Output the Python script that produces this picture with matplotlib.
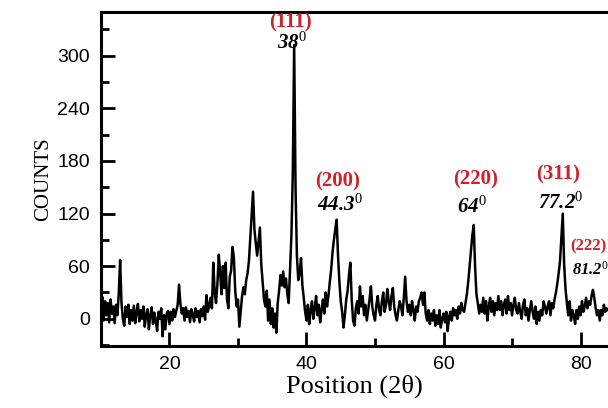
import numpy as np
import matplotlib.pyplot as plt
from matplotlib.ticker import MultipleLocator

plt.rcParams["mathtext.fontset"] = "custom"
plt.rcParams["mathtext.it"] = "Liberation Serif:italic"
plt.rcParams["mathtext.rm"] = "Liberation Serif"

# 2-theta grid (0.2 deg steps) and counts
two_theta = np.round(np.arange(10.0, 84.01, 0.2), 1)
counts = [
    12, 25, -2, 20, 4,      # 10
    18, -4, 22, 6, 14,      # 11
    -5, 16, 4, 28, 67,      # 12
    18, 0, -8, 14, 2,       # 13
    16, -6, 10, -2, 15,     # 14
    -5, 8, 17, -3, 10,      # 15
    0, 14, -9, 5, 11,       # 16
    -12, 4, 13, -6, 7,      # 17
    -2, -14, 8, 0, 12,      # 18
    -20, 4, -12, 6, 9,      # 19
    -6, 8, -2, 11, 2,       # 20
    9, 16, 39, 17, 6,       # 21
    12, -2, 13, 2, 9,       # 22
    -4, 11, 5, -3, 12,      # 23
    2, 9, -4, 11, 3,        # 24
    14, -1, 27, 8, 15,      # 25
    24, 12, 64, 30, 18,     # 26
    40, 73, 52, 28, 60,     # 27
    35, 64, 22, 12, 48,     # 28
    55, 82, 70, 32, 14,     # 29
    22, -9, 8, 26, 36,      # 30
    28, 44, 52, 66, 92,     # 31
    118, 145, 102, 86, 72,  # 32
    88, 104, 62, 42, 22,    # 33
    14, 32, -2, 22, -6,     # 34
    12, -10, 6, -16, 18,    # 35
    32, 50, 38, 54, 36,     # 36
    46, 28, 18, 55, 95,     # 37
    165, 312, 150, 72, 44,  # 38
    52, 69, 38, 24, 8,      # 39
    -2, 16, -6, 10, 20,     # 40
    0, 12, 26, 4, 16,       # 41
    -4, 10, 22, 6, 30,      # 42
    14, 26, 42, 56, 76,     # 43
    90, 102, 113, 72, 42,   # 44
    20, 8, -10, 4, 22,      # 45
    32, 50, 64, 22, -2,     # 46
    -8, 12, 20, 6, 37,      # 47
    14, 26, 4, 16, -2,      # 48
    10, 22, 37, 14, 4,      # 49
    -2, 16, 26, 10, 4,      # 50
    20, 30, 8, 16, 34,      # 51
    20, 10, 26, 35, 14,     # 52
    4, -2, 10, 20, 14,      # 53
    4, 24, 48, 20, 8,       # 54
    16, 4, 20, 10, -2,      # 55
    14, 8, 20, 24, 30,      # 56
    16, 30, 6, -2, 10,      # 57
    -6, 6, -2, 10, -8,      # 58
    4, -6, 10, -10, 0,      # 59
    6, -4, 8, -14, 2,       # 60
    8, -2, 12, 4, 10,       # 61
    0, 14, 6, 18, 10,       # 62
    8, 18, 28, 42, 60,      # 63
    78, 95, 107, 60, 28,    # 64
    18, 6, 16, 8, 24,       # 65
    6, 20, -2, 14, 24,      # 66
    8, 20, 4, 18, 10,       # 67
    26, 10, 20, 4, 16,      # 68
    22, 6, 26, 10, 18,      # 69
    4, 16, 24, 10, 6,       # 70
    18, 8, 0, 16, 22,       # 71
    4, 12, -2, 10, 20,      # 72
    8, 0, 14, -6, 8,        # 73
    -2, 10, 4, 20, 14,      # 74
    6, 14, 20, 4, 18,       # 75
    12, 22, 30, 40, 52,     # 76
    66, 92, 120, 62, 34,    # 77
    18, 4, 20, -2, 10,      # 78
    4, -6, 10, 0, 14,       # 79
    4, 20, 8, 14, 24,       # 80
    12, 20, 16, 26, 33,     # 81
    24, 12, 4, 10, -2,      # 82
    10, 4, 16, 8, 12,       # 83
    10,                     # 84
]

# peak labels: (hkl, angle text, x, y of hkl, x, y of angle)
hkl_labels = ["(111)", "(200)", "(220)", "(311)"]
angle_labels = ["38", "44.3", "64", "77.2"]
hkl_pos = [(37.6, 338), (44.6, 157), (64.6, 159), (76.7, 164)]
angle_pos = [(37.9, 314), (44.9, 130), (64.2, 127), (77.1, 132)]

red = "#d0202a"
serif = ["Liberation Serif", "DejaVu Serif"]

fig = plt.figure(figsize=(6.08, 4.08), dpi=100)
ax = fig.add_axes([0.166, 0.152, 0.834, 0.819])
ax.plot(two_theta, counts, color="black", lw=1.8)

ax.set_xlim(10, 84)
ax.set_ylim(-31, 350)
ax.xaxis.set_major_locator(MultipleLocator(20))
ax.xaxis.set_minor_locator(MultipleLocator(10))
ax.yaxis.set_major_locator(MultipleLocator(60))
ax.yaxis.set_minor_locator(MultipleLocator(30))
ax.tick_params(which="both", direction="in", top=False, right=False,
               width=2, labelsize=14)
ax.tick_params(which="major", length=10)
ax.tick_params(which="minor", length=6)
ax.tick_params(axis="x", pad=7)
ax.tick_params(axis="y", pad=8)
for lab in ax.get_xticklabels() + ax.get_yticklabels():
    lab.set_family("Liberation Sans")
ax.spines["right"].set_visible(False)
for s in ["left", "bottom", "top"]:
    ax.spines[s].set_linewidth(2.2)

ax.set_xlabel("Position (2\u03b8)", family=serif, fontsize=19, labelpad=1)
ax.set_ylabel("COUNTS", family=serif, fontsize=15, labelpad=3)

for h, a, hp, ap in zip(hkl_labels, angle_labels, hkl_pos, angle_pos):
    ax.text(hp[0], hp[1], h, color=red, family=serif, weight="bold",
            fontsize=15, ha="center", va="center")
    ax.text(ap[0], ap[1], a + r"$^{\mathit{0}}$", color="black", family=serif,
            weight="bold", style="italic", fontsize=15, ha="center", va="center")

ax.text(78.5, 83, "(222)", color=red, family=serif, weight="bold",
        fontsize=12, ha="left", va="center")
ax.text(78.8, 56, "81.2" + r"$^{\mathit{0}}$", color="black", family=serif,
        weight="bold", style="italic", fontsize=12, ha="left", va="center")

fig.savefig("out.png", dpi=100)
